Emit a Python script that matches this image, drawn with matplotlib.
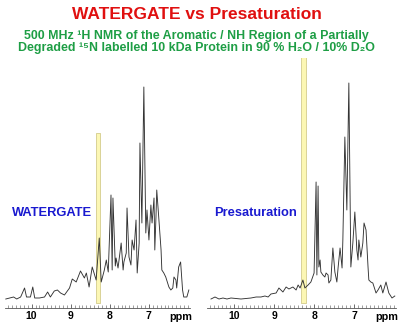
import matplotlib
matplotlib.use("Agg")
import matplotlib.pyplot as plt
from matplotlib.ticker import MultipleLocator

# spectrum vertices: chemical shift (ppm) and intensity above baseline
wg_ppm = [10.66, 10.56, 10.46, 10.38, 10.28, 10.18, 10.13, 10.03, 9.97, 9.92, 9.80, 9.67,
          9.59, 9.52, 9.42, 9.34, 9.26, 9.16, 9.03, 8.96, 8.86, 8.75, 8.65, 8.60, 8.53,
          8.45, 8.35, 8.27, 8.22, 8.14, 8.09, 8.04, 7.97, 7.94, 7.92, 7.86, 7.84, 7.79,
          7.71, 7.66, 7.64, 7.58, 7.56, 7.51, 7.46, 7.43, 7.38, 7.33, 7.30, 7.25, 7.23,
          7.18, 7.13, 7.08, 7.05, 7.00, 6.95, 6.92, 6.87, 6.85, 6.82, 6.80, 6.75, 6.69,
          6.67, 6.62, 6.57, 6.49, 6.44, 6.39, 6.36, 6.31, 6.29, 6.24, 6.19, 6.14, 6.11,
          6.03, 5.98]
wg_int = [0, 1, 2, 0, 2, 11, 2, 2, 12, 1, 1, 2,
          7, 2, 8, 9, 6, 4, 11, 20, 17, 28, 21, 26, 12,
          32, 19, 61, 17, 29, 39, 27, 104, 29, 101, 33, 41, 31,
          56, 29, 37, 46, 91, 42, 34, 59, 49, 79, 26, 56, 156,
          76, 212, 66, 89, 59, 94, 76, 101, 49, 82, 109, 82, 49,
          29, 26, 22, 12, 9, 11, 22, 19, 11, 32, 37, 9, 2,
          2, 9]

ps_ppm = [10.58, 10.48, 10.38, 10.28, 10.18, 10.08, 9.83, 9.58, 9.45, 9.33, 9.23, 9.15,
          9.08, 8.95, 8.88, 8.78, 8.70, 8.63, 8.53, 8.45, 8.40, 8.35, 8.28, 8.23, 8.15,
          8.08, 8.00, 7.95, 7.93, 7.90, 7.88, 7.85, 7.83, 7.78, 7.73, 7.70, 7.65, 7.63,
          7.58, 7.53, 7.48, 7.43, 7.40, 7.35, 7.30, 7.28, 7.23, 7.18, 7.13, 7.08, 7.03,
          6.98, 6.93, 6.90, 6.88, 6.83, 6.78, 6.75, 6.70, 6.65, 6.63, 6.58, 6.53, 6.45,
          6.40, 6.33, 6.28, 6.20, 6.13, 6.05, 5.98]
ps_int = [0, 2, 0, 1, 0, 1, 0, 1, 2, 2, 3, 2,
          5, 6, 11, 7, 12, 10, 12, 9, 14, 11, 19, 11, 14,
          17, 26, 117, 24, 113, 32, 39, 27, 24, 22, 26, 24, 16,
          19, 51, 27, 17, 31, 51, 31, 59, 162, 89, 216, 32, 56,
          87, 49, 39, 59, 42, 56, 76, 69, 32, 19, 17, 16, 6,
          9, 14, 6, 17, 6, 1, 3]

panel_labels = ["WATERGATE", "Presaturation"]
highlight = [(8.35, 8.24, 166), (8.32, 8.20, 260)]  # ppm from, ppm to, top intensity
major_ticks = [10, 9, 8, 7]

plt.rcParams['font.family'] = ['Liberation Sans', 'DejaVu Sans']

fig = plt.figure(figsize=(4, 3.34), dpi=100)
fig.set_facecolor('white')

fig.text(0.4925, 1 - 14.5 / 334, "WATERGATE vs Presaturation", color='#e01010',
         fontsize=12.5, fontweight='bold', ha='center', va='center')
fig.text(0.49, 1 - 36 / 334,
         "500 MHz \u00b9H NMR of the Aromatic / NH Region of a Partially",
         color='#1e9e45', fontsize=8.9, fontweight='bold', ha='center', va='center')
fig.text(0.49, 1 - 48 / 334,
         "Degraded \u00b9\u2075N labelled 10 kDa Protein in 90 % H\u2082O / 10% D\u2082O",
         color='#1e9e45', fontsize=8.9, fontweight='bold', ha='center', va='center')

boxes = [(5, 185), (207, 189)]  # left px, width px
spectra = [(wg_ppm, wg_int), (ps_ppm, ps_int)]
bottom_px, top_px = 308, 58

for i in range(2):
    left, width = boxes[i]
    ax = fig.add_axes([left / 400, (334 - bottom_px) / 334, width / 400,
                       (bottom_px - top_px) / 334])
    ax.set_xlim(10.68, 5.95)
    ax.set_ylim(-9, 241)

    lo, hi, top = highlight[i]
    ax.fill_between([lo, hi], -4, top, facecolor='#fcf7b4', edgecolor='#d4cc8c',
                    linewidth=0.6, zorder=1)

    x, y = spectra[i]
    ax.plot(x, y, color='#333333', linewidth=0.65, zorder=2)

    for s in ['top', 'left', 'right']:
        ax.spines[s].set_visible(False)
    ax.spines['bottom'].set_color('#555555')
    ax.spines['bottom'].set_linewidth(0.6)
    ax.set_yticks([])
    ax.set_xticks(major_ticks)
    ax.xaxis.set_minor_locator(MultipleLocator(0.1))
    ax.tick_params(axis='x', which='major', direction='in', length=3, width=0.6,
                   color='#555555', pad=2, labelsize=7.5)
    ax.tick_params(axis='x', which='minor', direction='in', length=2, width=0.5,
                   color='#777777')
    for lab in ax.get_xticklabels():
        lab.set_fontweight('bold')
    ax.text(0.95, -0.038, "ppm", transform=ax.transAxes, fontsize=7.8,
            fontweight='bold', ha='center', va='center')
    ax.text(0.04, 0.38, panel_labels[i], transform=ax.transAxes, color='#1a1ad0',
            fontsize=9.3, fontweight='bold', ha='left', va='center')

fig.savefig('out.png', dpi=100)
